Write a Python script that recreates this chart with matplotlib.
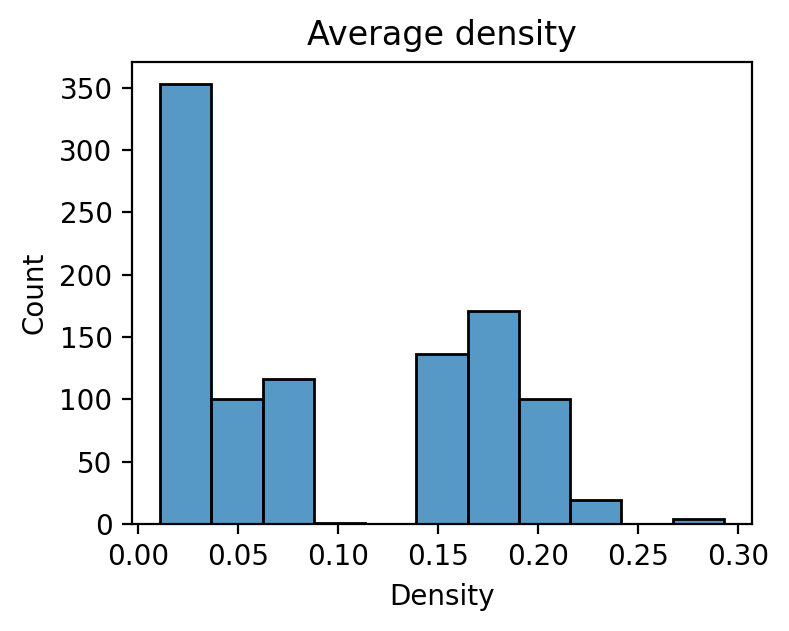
import matplotlib.pyplot as plt
import numpy as np

# histogram bins
bin_edges = [0.0110, 0.0366, 0.0623, 0.0879, 0.1136, 0.1392,
             0.1648, 0.1905, 0.2161, 0.2418, 0.2674, 0.2930]
counts = [353, 100, 116, 1, 0, 136, 171, 100, 19, 0, 4]

fig, ax = plt.subplots(figsize=(7.89 / 2, 6.31 / 2), dpi=200)
fig.subplots_adjust(left=132 / 789, right=752 / 789, top=1 - 62 / 631, bottom=1 - 524 / 631)

edges = np.array(bin_edges)
widths = np.diff(edges)
ax.bar(edges[:-1], counts, width=widths, align="edge",
       color=(31 / 255, 119 / 255, 180 / 255, 0.75), edgecolor="black", linewidth=1)

ax.set_title("Average density")
ax.set_xlabel("Density")
ax.set_ylabel("Count")
ax.set_xticks([0.0, 0.05, 0.10, 0.15, 0.20, 0.25, 0.30])
ax.set_xticklabels(["0.00", "0.05", "0.10", "0.15", "0.20", "0.25", "0.30"])

fig.savefig("out.png", dpi=200)
